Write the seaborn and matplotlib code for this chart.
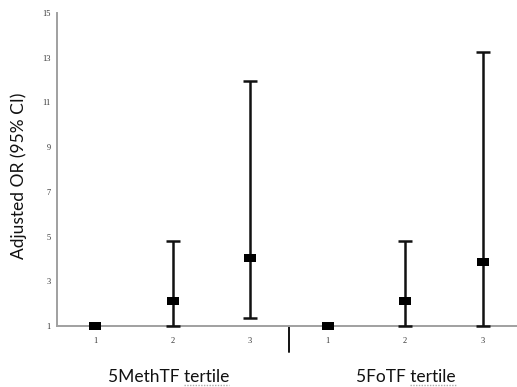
import numpy as np
import pandas as pd
import seaborn as sns
import matplotlib.pyplot as plt
from matplotlib.path import Path

# Odds ratios by tertile for the two folate forms
groups = ["5MethTF", "5MethTF", "5MethTF", "5FoTF", "5FoTF", "5FoTF"]
tertiles = ["1", "2", "3", "1", "2", "3"]
odds_ratio = [1.0, 2.1, 4.05, 1.0, 2.1, 3.85]
ci_low = [1.0, 1.0, 1.35, 1.0, 1.0, 1.0]
ci_high = [1.0, 4.82, 11.96, 1.0, 4.82, 13.25]
group_names = ["5MethTF", "5FoTF"]
y_ticks = [1, 3, 5, 7, 9, 11, 13, 15]

df = pd.DataFrame({
    "group": groups,
    "tertile": tertiles,
    "OR": odds_ratio,
    "low": ci_low,
    "high": ci_high,
})
df["pos"] = np.arange(len(df))

sns.set_style("white")
plt.rcParams["font.family"] = ["Lato", "DejaVu Sans"]

fig = plt.figure(figsize=(5.17, 3.87), dpi=100)
ax = fig.add_axes([0.1103, 0.1576, 0.8897, 0.8094])

# confidence intervals (reference tertile has none)
ci = df[df["high"] > df["low"]]
ax.errorbar(ci["pos"], ci["OR"],
            yerr=[ci["OR"] - ci["low"], ci["high"] - ci["OR"]],
            fmt="none", ecolor="#111111", elinewidth=1.8,
            capsize=5, capthick=1.8, zorder=3, clip_on=False)

# point estimates as flat black rectangles
rect = Path([(-1, -0.58), (1, -0.58), (1, 0.58), (-1, 0.58), (-1, -0.58)],
            [Path.MOVETO, Path.LINETO, Path.LINETO, Path.LINETO, Path.CLOSEPOLY])
sns.scatterplot(data=df, x="pos", y="OR", marker=rect, s=80, color="black",
                edgecolor="black", linewidth=0, ax=ax, zorder=4, clip_on=False,
                legend=False)

ax.set_xlim(-0.49, 5.445)
ax.set_ylim(1, 15)
ax.set_yticks(y_ticks)
ax.set_yticklabels([str(t) for t in y_ticks])
ax.set_xticks(df["pos"])
ax.set_xticklabels(df["tertile"])
ax.set_xticks([0.5, 1.5, 3.5, 4.5], minor=True)

for side in ("top", "right"):
    ax.spines[side].set_visible(False)
for side in ("left", "bottom"):
    ax.spines[side].set_color("#a0a0a0")
    ax.spines[side].set_linewidth(1.4)

for lab in ax.get_xticklabels() + ax.get_yticklabels():
    lab.set_fontfamily("Liberation Serif")
    lab.set_fontsize(6)
    lab.set_color("#333333")
ax.tick_params(axis="y", which="major", length=2.5, width=0.8, color="#9a9a9a",
               direction="out", pad=2)
ax.tick_params(axis="x", which="major", length=0, pad=8)
ax.tick_params(axis="x", which="minor", length=2, width=1.0, color="#9a9a9a",
               direction="out")
ax.set_xlabel("")
ax.set_ylabel("")

# divider between the two groups
ax.plot([2.5, 2.5], [0, -0.083], transform=ax.get_xaxis_transform(),
        color="#111111", lw=1.4, clip_on=False)

fig.text(0.0368, 0.545, "Adjusted OR (95% CI)", rotation=90, ha="center",
         va="center", fontsize=12.5, color="#111111")

# group labels with a dotted underline under "tertile"
fig.canvas.draw()
renderer = fig.canvas.get_renderer()
centers = [168.5, 406]
for name, cx in zip(group_names, centers):
    full = fig.text(cx / 517, 0.013, f"{name} tertile", ha="center",
                    va="baseline", fontsize=12.5, color="#111111")
    prefix = fig.text(0, 0, f"{name} ", fontsize=12.5)
    bb_full = full.get_window_extent(renderer)
    bb_pre = prefix.get_window_extent(renderer)
    prefix.remove()
    x0 = (bb_full.x0 + bb_pre.width) / 517
    x1 = bb_full.x1 / 517
    fig.add_artist(plt.Line2D([x0, x1], [0.004, 0.004], transform=fig.transFigure,
                              color="#aaaaaa", lw=1.0, ls=(0, (1, 1))))

fig.savefig("out.png", dpi=100)
